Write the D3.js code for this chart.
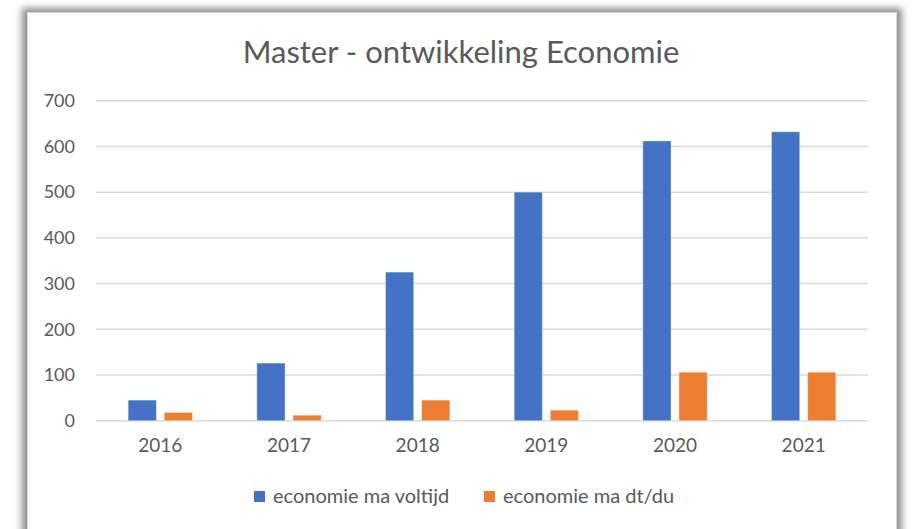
<!DOCTYPE html>
<html>
<head>
<meta charset="utf-8">
<script src="https://cdn.jsdelivr.net/npm/d3@7"></script>
<style>
  body { margin: 0; background: #fff; overflow: hidden; }
  #frame {
    position: absolute; left: 27px; top: 12px; width: 868px; height: 540px;
    background: #fff; border: 1px solid #d9d9d9;
    box-shadow: 0 1px 7px 5px rgba(0, 0, 0, 0.45);
  }
  svg { position: absolute; left: 0; top: 0; }
  text { font-family: Lato, "Open Sans", sans-serif; fill: #595959; }
</style>
</head>
<body>
<div id="frame"></div>
<svg id="chart" width="912" height="529"></svg>
<script>
const years = ['2016', '2017', '2018', '2019', '2020', '2021'];
const seriesNames = ['economie ma voltijd', 'economie ma dt/du'];
const voltijd = [45, 126, 325, 500, 612, 632];
const deeltijd = [18, 12, 45, 23, 106, 106];
const yTicks = [0, 100, 200, 300, 400, 500, 600, 700];
const colors = ['#4472C4', '#ED7D31'];

const margin = { left: 96, right: 868, top: 100.7, bottom: 420.7 };
const svg = d3.select('#chart');

const x = d3.scaleBand()
    .domain(years)
    .range([margin.left, margin.right])
    .paddingInner(0.5)
    .paddingOuter(0.25);

const xSeries = d3.scaleBand()
    .domain(seriesNames)
    .range([0, x.bandwidth()])
    .paddingInner(0.22);

const y = d3.scaleLinear()
    .domain([0, 700])
    .range([margin.bottom, margin.top]);

// title
svg.append('text')
    .attr('x', 461)
    .attr('y', 63)
    .attr('text-anchor', 'middle')
    .style('font-size', '31px')
    .text('Master - ontwikkeling Economie');

// gridlines
svg.append('g')
    .selectAll('line')
    .data(yTicks)
    .enter()
    .append('line')
    .attr('x1', margin.left)
    .attr('x2', margin.right)
    .attr('y1', (d) => y(d))
    .attr('y2', (d) => y(d))
    .attr('stroke', '#d9d9d9')
    .attr('stroke-width', 1.5);

// y axis labels
const yAxis = svg.append('g')
    .attr('transform', 'translate(75,0)')
    .call(d3.axisLeft(y).tickValues(yTicks).tickSize(0).tickPadding(0));
yAxis.select('.domain').remove();
yAxis.selectAll('text')
    .style('font-size', '18px')
    .attr('fill', '#595959')
    .attr('font-family', 'Lato');

// x axis labels
const xAxis = svg.append('g')
    .attr('transform', 'translate(0,' + margin.bottom + ')')
    .call(d3.axisBottom(x).tickSize(0).tickPadding(18));
xAxis.select('.domain').remove();
xAxis.selectAll('text')
    .style('font-size', '19px')
    .attr('fill', '#595959')
    .attr('font-family', 'Lato');

// bars
const rows = years.map((yr, i) => ({ year: yr, values: [voltijd[i], deeltijd[i]] }));

const group = svg.append('g')
    .selectAll('g')
    .data(rows)
    .enter()
    .append('g')
    .attr('transform', (d) => 'translate(' + x(d.year) + ',0)');

group.selectAll('rect')
    .data((d) => d.values.map((v, j) => ({ name: seriesNames[j], value: v, j: j })))
    .enter()
    .append('rect')
    .attr('x', (d) => xSeries(d.name))
    .attr('y', (d) => y(d.value))
    .attr('width', xSeries.bandwidth())
    .attr('height', (d) => y(0) - y(d.value))
    .attr('fill', (d) => colors[d.j])
    .attr('stroke', '#fff')
    .attr('stroke-opacity', 0.35)
    .attr('stroke-width', 1);

// legend
const legendX = [254, 484];
const legend = svg.append('g')
    .selectAll('g')
    .data(seriesNames)
    .enter()
    .append('g')
    .attr('transform', (d, i) => 'translate(' + legendX[i] + ',491)');

legend.append('rect')
    .attr('width', 11)
    .attr('height', 11)
    .attr('fill', (d, i) => colors[i]);

legend.append('text')
    .attr('x', 19)
    .attr('y', 12)
    .style('font-size', '20px')
    .text((d) => d);
</script>
</body>
</html>
